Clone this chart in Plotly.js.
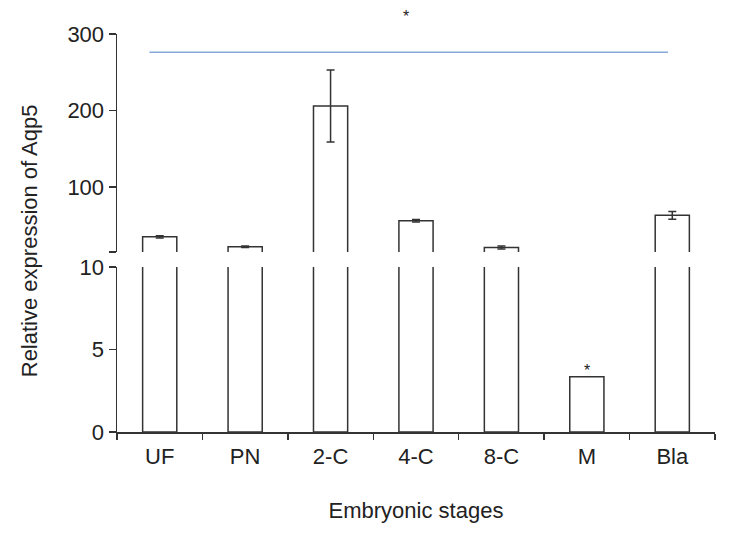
<!DOCTYPE html>
<html>
<head>
<meta charset="utf-8">
<script src="https://cdn.plot.ly/plotly-3.0.1.min.js"></script>
<style>
  html, body { margin: 0; padding: 0; background: #fff; }
  #chart { width: 746px; height: 537px; }
</style>
</head>
<body>
<div id="chart"></div>
<script>
// values (broken y axis: 0-10 below, 15-300 above)
const stages = ['UF', 'PN', '2-C', '4-C', '8-C', 'M', 'Bla'];
const expression = [35, 22, 206, 56, 21, 3.35, 63];
const errors = [1.5, 1, 47, 1.5, 2, 0, 5];

const lowerTicks = [0, 5, 10];
const upperTicks = [15, 100, 200, 300];
const upperTickText = ['', '100', '200', '300'];

// significance marks
const sigLine = { from: -0.12, to: 5.95, level: 276 };
const sigStarM = { x: 5, y: 3.35 };

const ink = '#333333';
const font = { family: 'Liberation Sans, Arial, sans-serif', size: 22, color: '#222' };
const starFont = { family: 'Liberation Sans, Arial, sans-serif', size: 16, color: '#222' };

const barStyle = { color: '#ffffff', line: { color: ink, width: 1.5 } };

const data = [
  {
    type: 'bar', x: stages, y: expression, xaxis: 'x', yaxis: 'y',
    width: 0.4, marker: barStyle, hoverinfo: 'x+y', showlegend: false
  },
  {
    type: 'bar', x: stages, y: expression, xaxis: 'x', yaxis: 'y2',
    width: 0.4, marker: barStyle, showlegend: false,
    error_y: { type: 'data', array: errors, visible: true, color: ink, thickness: 1.5, width: 4 }
  }
];

const axisCommon = {
  showline: true, linecolor: ink, linewidth: 1.5,
  ticks: 'outside', tickcolor: ink, tickwidth: 1.5,
  showgrid: false, zeroline: false, tickfont: font
};

const layout = {
  width: 746, height: 537, autosize: false,
  paper_bgcolor: '#fff', plot_bgcolor: '#fff',
  font: font,
  margin: { l: 117, r: 31, t: 34, b: 105 },
  xaxis: Object.assign({}, axisCommon, {
    type: 'category', categoryarray: stages, range: [-0.5, 6.5],
    tickson: 'boundaries', ticklen: 6, ticklabelstandoff: 4, anchor: 'y',
    title: { text: 'Embryonic stages', font: font, standoff: 34 }
  }),
  yaxis: Object.assign({}, axisCommon, {
    domain: [0, 0.4146], range: [0, 10], tickvals: lowerTicks, ticklen: 7, anchor: 'x'
  }),
  yaxis2: Object.assign({}, axisCommon, {
    domain: [0.452, 1], range: [15, 300], tickvals: upperTicks, ticktext: upperTickText,
    ticklen: 7, anchor: 'x'
  }),
  shapes: [{
    type: 'line', xref: 'x', yref: 'y2',
    x0: sigLine.from, x1: sigLine.to, y0: sigLine.level, y1: sigLine.level,
    line: { color: '#86a9d8', width: 1.5 }
  }],
  annotations: [
    { text: 'Relative expression of Aqp5', textangle: -90, xref: 'paper', yref: 'paper',
      x: -0.145, y: 0.48, xanchor: 'center', yanchor: 'middle', showarrow: false, font: font },
    { text: '*', xref: 'x', yref: 'paper', x: 2.88, y: 1.018,
      yanchor: 'bottom', showarrow: false, font: starFont },
    { text: '*', xref: 'x', yref: 'y', x: sigStarM.x, y: sigStarM.y,
      yanchor: 'bottom', yshift: -4, showarrow: false, font: starFont }
  ]
};

Plotly.newPlot('chart', data, layout, { displayModeBar: false, staticPlot: true });
</script>
</body>
</html>
